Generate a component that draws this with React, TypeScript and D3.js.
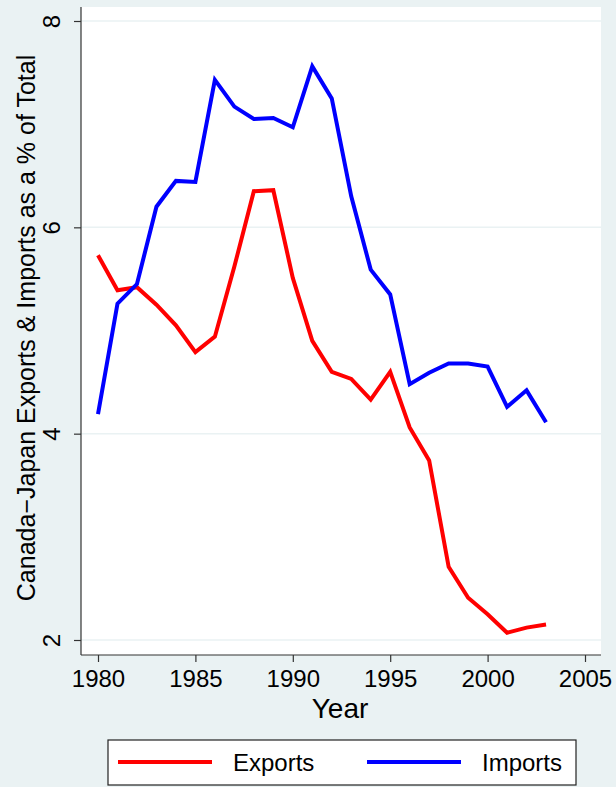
import React, { useEffect, useRef } from 'react';
import * as d3 from 'd3';

const years = [
    1980, 1981, 1982, 1983, 1984, 1985, 1986, 1987, 1988, 1989, 1990, 1991,
    1992, 1993, 1994, 1995, 1996, 1997, 1998, 1999, 2000, 2001, 2002, 2003
];
const exportsPct = [
    5.73, 5.39, 5.42, 5.25, 5.05, 4.79, 4.94, 5.62, 6.35, 6.36, 5.51, 4.90,
    4.60, 4.53, 4.33, 4.60, 4.06, 3.74, 2.71, 2.41, 2.25, 2.07, 2.12, 2.15
];
const importsPct = [
    4.19, 5.26, 5.45, 6.20, 6.45, 6.44, 7.43, 7.17, 7.05, 7.06, 6.97, 7.56,
    7.25, 6.30, 5.59, 5.35, 4.48, 4.59, 4.68, 4.68, 4.65, 4.26, 4.42, 4.11
];
const xTicks = [1980, 1985, 1990, 1995, 2000, 2005];
const yTicks = [2, 4, 6, 8];
const seriesNames = ['Exports', 'Imports'];
const seriesColors = ['#ff0000', '#0000ff'];

const width = 616;
const height = 787;
const bg = '#eaf2f3';
const font = '"Liberation Sans", Arial, sans-serif';

const Chart = () => {
    const svgRef = useRef(null);

    useEffect(() => {
        const svg = d3.select(svgRef.current);
        svg.selectAll('*').remove();

        const plot = { left: 81, right: 601, top: 7, bottom: 655 };

        const x = d3.scaleLinear().domain([1980, 2005]).range([98, 585]);
        const y = d3.scaleLinear().domain([2, 8]).range([640, 21]);

        svg.append('rect')
            .attr('width', width)
            .attr('height', height)
            .attr('fill', bg);

        svg.append('rect')
            .attr('x', plot.left)
            .attr('y', plot.top)
            .attr('width', plot.right - plot.left)
            .attr('height', plot.bottom - plot.top)
            .attr('fill', '#ffffff');

        // gridlines
        svg.append('g')
            .selectAll('line')
            .data(yTicks)
            .enter()
            .append('line')
            .attr('x1', plot.left)
            .attr('x2', plot.right)
            .attr('y1', d => y(d))
            .attr('y2', d => y(d))
            .attr('stroke', bg)
            .attr('stroke-width', 1.5);

        // y axis
        const yAxis = svg.append('g')
            .attr('transform', `translate(${plot.left},0)`)
            .call(d3.axisLeft(y).tickValues(yTicks).tickSize(7).tickPadding(6).tickFormat(d3.format('d')));
        yAxis.select('.domain').attr('d', `M0,${plot.top}V${plot.bottom}`).attr('stroke', '#333').attr('stroke-width', 1.2);
        yAxis.selectAll('.tick line').attr('stroke', '#333').attr('stroke-width', 1.2);
        yAxis.selectAll('.tick text')
            .attr('font-family', font)
            .attr('font-size', '24px')
            .attr('fill', '#000')
            .attr('transform', 'rotate(-90)')
            .attr('x', 0)
            .attr('y', -21)
            .attr('dy', 0)
            .attr('text-anchor', 'middle');

        // x axis
        const xAxis = svg.append('g')
            .attr('transform', `translate(0,${plot.bottom})`)
            .call(d3.axisBottom(x).tickValues(xTicks).tickSize(7).tickPadding(8).tickFormat(d3.format('d')));
        xAxis.select('.domain').attr('d', `M${plot.left},0H${plot.right}`).attr('stroke', '#333').attr('stroke-width', 1.2);
        xAxis.selectAll('.tick line').attr('stroke', '#333').attr('stroke-width', 1.2);
        xAxis.selectAll('.tick text')
            .attr('font-family', font)
            .attr('font-size', '24px')
            .attr('fill', '#000');

        // axis titles
        svg.append('text')
            .attr('x', 340)
            .attr('y', 718)
            .attr('text-anchor', 'middle')
            .attr('font-family', font)
            .attr('font-size', '28px')
            .text('Year');

        svg.append('text')
            .attr('transform', `translate(35,328) rotate(-90)`)
            .attr('text-anchor', 'middle')
            .attr('font-family', font)
            .attr('font-size', '25px')
            .text('Canada\u2212Japan Exports & Imports as a % of Total');

        const line = d3.line()
            .x(d => x(d[0]))
            .y(d => y(d[1]));

        [exportsPct, importsPct].forEach((vals, i) => {
            svg.append('path')
                .datum(years.map((yr, j) => [yr, vals[j]]))
                .attr('fill', 'none')
                .attr('stroke', seriesColors[i])
                .attr('stroke-width', 4)
                .attr('stroke-linejoin', 'miter')
                .attr('d', line);
        });

        // legend
        const legend = svg.append('g');
        legend.append('rect')
            .attr('x', 108)
            .attr('y', 740)
            .attr('width', 468)
            .attr('height', 45)
            .attr('fill', '#ffffff')
            .attr('stroke', '#222')
            .attr('stroke-width', 1.2);

        const entryX = [118, 367];
        seriesNames.forEach((name, i) => {
            legend.append('line')
                .attr('x1', entryX[i])
                .attr('x2', entryX[i] + 94)
                .attr('y1', 762)
                .attr('y2', 762)
                .attr('stroke', seriesColors[i])
                .attr('stroke-width', 4);
            legend.append('text')
                .attr('x', entryX[i] + 115)
                .attr('y', 771)
                .attr('font-family', font)
                .attr('font-size', '24px')
                .text(name);
        });
    }, []);

    return <svg ref={svgRef} width={width} height={height} style={{ display: 'block' }} />;
};

export default function App() {
    useEffect(() => {
        document.body.style.margin = '0';
    }, []);
    return <Chart />;
}
